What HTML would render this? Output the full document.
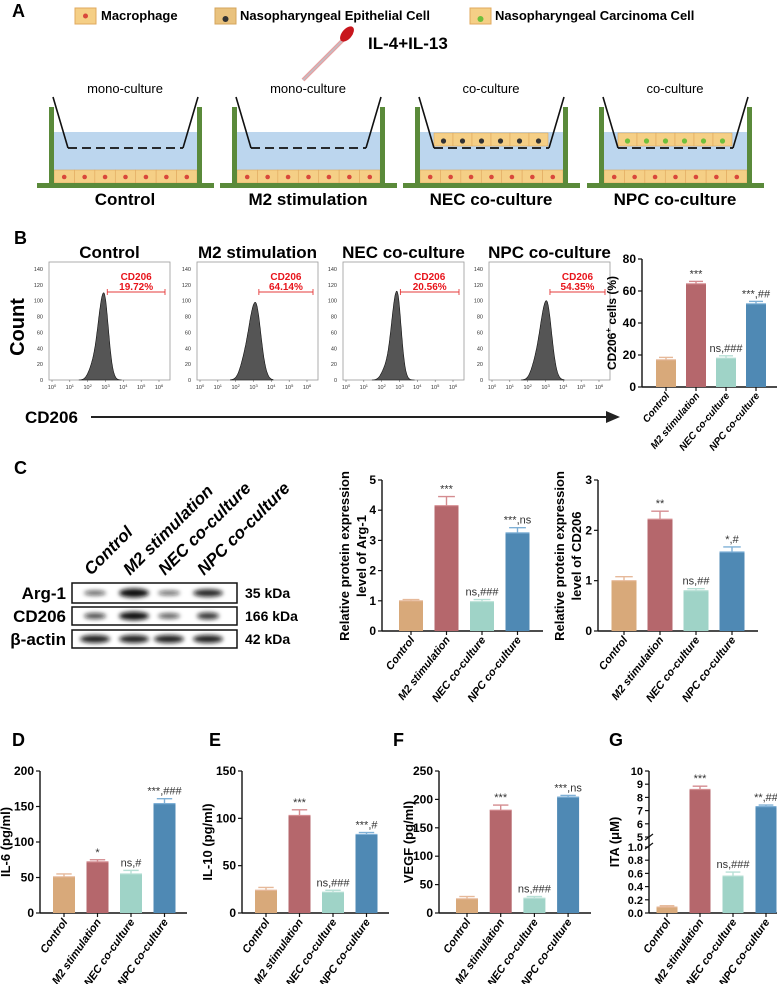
<!DOCTYPE html>
<html><head><meta charset="utf-8"><style>
body{margin:0;background:#fff}
svg{display:block;font-family:"Liberation Sans Narrow","Liberation Sans",sans-serif}
</style></head><body>
<svg id="fig" width="777" height="984" viewBox="0 0 777 984" xmlns="http://www.w3.org/2000/svg">
<defs>
<filter id="blur1" x="-50%" y="-100%" width="200%" height="300%"><feGaussianBlur stdDeviation="2"/></filter>
</defs>
<g id="panelA">
<text x="12" y="17" font-size="18" font-weight="bold" font-family="Liberation Sans">A</text>
<g><rect x="75" y="8" width="21" height="16" fill="#f5cf86" stroke="#e0a85e"/><circle cx="85.5" cy="16" r="2.5" fill="#d9483b"/><text x="101" y="20" font-size="13" font-weight="bold">Macrophage</text></g>
<g><rect x="215" y="8" width="21" height="16" fill="#e9c27e" stroke="#d5a55c"/><circle cx="225.5" cy="19" r="3" fill="#333"/><text x="240" y="20" font-size="13" font-weight="bold">Nasopharyngeal Epithelial Cell</text></g>
<g><rect x="470" y="8" width="21" height="16" fill="#f5cf86" stroke="#e0a85e"/><circle cx="480.5" cy="19" r="3" fill="#6fbf3b"/><text x="495" y="20" font-size="13" font-weight="bold">Nasopharyngeal Carcinoma Cell</text></g>
<g><line x1="303" y1="80" x2="343" y2="40" stroke="#e8a0a0" stroke-width="4"/><line x1="303" y1="80" x2="343" y2="40" stroke="#c0c0c8" stroke-width="1.5"/><ellipse cx="347" cy="34" rx="5" ry="9" transform="rotate(40 347 34)" fill="#c8161d"/></g>
<text x="368" y="49" font-size="17" font-weight="bold">IL-4+IL-13</text>
<g id="wells"></g>
</g>
<g id="panelB">
<text x="14" y="244" font-size="18" font-weight="bold" font-family="Liberation Sans">B</text>
<text transform="translate(24 327) rotate(-90)" text-anchor="middle" font-size="20" font-weight="bold" font-family="Liberation Sans">Count</text>
<text x="25" y="423" font-size="17" font-weight="bold">CD206</text>
<g><line x1="91" y1="417" x2="612" y2="417" stroke="#222" stroke-width="2"/><polygon points="620,417 606,411 606,423" fill="#222"/></g>
<g id="hists"></g>
<g id="chartB"></g>
</g>
<g id="panelC">
<text x="14" y="474" font-size="18" font-weight="bold" font-family="Liberation Sans">C</text>
<g id="blot"></g>
<g id="chartArg"></g>
<g id="chartCD"></g>
</g>
<g id="panelDG">
<text x="12" y="746" font-size="18" font-weight="bold" font-family="Liberation Sans">D</text>
<text x="209" y="746" font-size="18" font-weight="bold" font-family="Liberation Sans">E</text>
<text x="393" y="746" font-size="18" font-weight="bold" font-family="Liberation Sans">F</text>
<text x="609" y="746" font-size="18" font-weight="bold" font-family="Liberation Sans">G</text>
<g id="chartD"></g><g id="chartE"></g><g id="chartF"></g><g id="chartG"></g>
</g>
</svg>
<script>
const NS="http://www.w3.org/2000/svg";
const groups=["Control","M2 stimulation","NEC co-culture","NPC co-culture"];
const barColors=["#d8a97a","#b5676c","#9fd3c7","#4f89b4"];
const errColors=["#e6b99a","#d48c90","#b8e0d6","#7fb0d6"];
// Panel B flow data
const histPeakLog=[2.9,3.1,2.85,3.05];
const histPeakCount=[110,98,112,100];
const histWidth=[0.30,0.36,0.28,0.34];
const gatePct=["19.72%","64.14%","20.56%","54.35%"];
const histTicks=[0,20,40,60,80,100,120,140];
// Panel B bars
const cd206PctValues=[17,64.5,18,52];
const cd206PctErr=[18.5,66,19.5,53.5];
const cd206PctAnn=["","***","ns,###","***,##"];
const cd206PctTicks=[0,20,40,60,80];
// Panel C
const argValues=[1.0,4.15,0.97,3.25];
const argErr=[1.04,4.45,1.04,3.42];
const argAnn=["","***","ns,###","***,ns"];
const argTicks=[0,1,2,3,4,5];
const cdValues=[1.0,2.22,0.80,1.57];
const cdErr=[1.08,2.38,0.84,1.67];
const cdAnn=["","**","ns,##","*,#"];
const cdTicks=[0,1,2,3];
const argBand=[0.35,1.0,0.3,0.75];
const cd206Band=[0.5,0.9,0.4,0.65];
const actinBand=[0.8,0.8,0.8,0.8];
// Panels D-G
const il6Values=[51,72,55,154];
const il6Err=[55,75,60,161];
const il6Ann=["","*","ns,#","***,###"];
const il6Ticks=[0,50,100,150,200];
const il10Values=[24,103,22,83];
const il10Err=[27,109,24,85];
const il10Ann=["","***","ns,###","***,#"];
const il10Ticks=[0,50,100,150];
const vegfValues=[25,181,26,204];
const vegfErr=[29,190,29,207];
const vegfAnn=["","***","ns,###","***,ns"];
const vegfTicks=[0,50,100,150,200,250];
const itaValues=[0.09,8.6,0.56,7.3];
const itaErr=[0.11,8.85,0.62,7.42];
const itaAnn=["","***","ns,###","**,##"];
const itaTicksLow=[0,0.2,0.4,0.6,0.8,1.0];
const itaTicksHigh=[5,6,7,8,9,10];

function el(tag,attrs,parent,text){const e=document.createElementNS(NS,tag);for(const k in attrs)e.setAttribute(k,attrs[k]);if(text!==undefined)e.textContent=text;if(parent)parent.appendChild(e);return e;}

// ---------- Panel A wells ----------
const wellsG=document.getElementById('wells');
const wellLeft=[49,232,415,599];
const topLabels=["mono-culture","mono-culture","co-culture","co-culture"];
const insertCells=[null,null,"#333","#6fbf3b"];
wellLeft.forEach((W,i)=>{
  const g=el('g',{},wellsG);
  
  
  el('rect',{x:W+5,y:132,width:143,height:38,fill:"#bcd6ee"},g);
  for(let k=0;k<7;k++){const cw=143/7;el('rect',{x:W+5+k*cw,y:170,width:cw,height:13,fill:"#f5cf86",stroke:"#e0a85e","stroke-width":0.6},g);el('circle',{cx:W+5+k*cw+cw/2,cy:177,r:2.3,fill:"#d9483b"},g);}
  if(insertCells[i]){for(let k=0;k<6;k++){const cw=114/6;el('rect',{x:W+19+k*cw,y:133,width:cw,height:13,fill:"#f5cf86",stroke:"#e0a85e","stroke-width":0.6},g);el('circle',{cx:W+19+k*cw+cw/2,cy:141,r:2.6,fill:insertCells[i]},g);}}
  el('rect',{x:W,y:107,width:5,height:78,fill:"#5a8a3a"},g);
  el('rect',{x:W+148,y:107,width:5,height:78,fill:"#5a8a3a"},g);
  el('rect',{x:W-12,y:183,width:177,height:5,fill:"#5a8a3a"},g);
  el('polyline',{points:`${W+4},97 ${W+19},148`,fill:"none",stroke:"#111","stroke-width":1.6},g);
  el('polyline',{points:`${W+134},148 ${W+149},97`,fill:"none",stroke:"#111","stroke-width":1.6},g);
  el('line',{x1:W+19,y1:148,x2:W+134,y2:148,stroke:"#111","stroke-width":1.8,"stroke-dasharray":"9,5"},g);
  const t=el('text',{x:W+76,y:93,"text-anchor":"middle","font-size":13},g,topLabels[i]);
  
  
  const b=el('text',{x:W+76,y:205,"text-anchor":"middle","font-size":17,"font-weight":"bold"},g,groups[i]);
  
  
});

// ---------- Panel B histograms ----------
const histG=document.getElementById('hists');
const frameL=[49,197,343,489], frameW=121, fTop=262, fBot=380;
histPeakLog.forEach((pk,i)=>{
  const g=el('g',{},histG);
  
  
  const L=frameL[i];
  const xs=v=>L+3+v*(frameW-14)/6;
  const ys=c=>fBot-c*(fBot-fTop-7)/140;
  const tt=el('text',{x:L+frameW/2,y:258,"text-anchor":"middle","font-size":17,"font-weight":"bold"},g,groups[i]);
  
  
  el('rect',{x:L,y:fTop,width:frameW,height:fBot-fTop,fill:"none",stroke:"#999","stroke-width":0.8},g);
  histTicks.forEach(t=>{el('text',{x:L-6,y:ys(t)+2,"text-anchor":"end","font-size":5.5,fill:"#333"},g,t);});
  for(let d=0;d<=6;d++){const tx=el('text',{x:xs(d),y:389,"text-anchor":"middle","font-size":5.5,fill:"#333"},g,"10");el('tspan',{dy:-2,"font-size":4},tx,d);
    el('line',{x1:xs(d),y1:fBot,x2:xs(d),y2:fBot+2,stroke:"#555","stroke-width":0.5},g);}
  let d=`M${xs(pk-1.4)},${fBot}`;
  for(let v=pk-1.4;v<=pk+1.0;v+=0.02){const w=v<pk?histWidth[i]*1.1:histWidth[i]*0.85;let c=histPeakCount[i]*Math.exp(-Math.pow((v-pk)/w,2)/2);if(v<pk)c+=histPeakCount[i]*0.08*Math.exp(-Math.pow((v-pk+0.7)/0.3,2));d+=` L${xs(v).toFixed(1)},${ys(c).toFixed(1)}`;}
  d+=` L${xs(pk+1.0)},${fBot} Z`;
  const p=el('path',{d:d,fill:"#555",stroke:"#111","stroke-width":0.6},g);
  
  
  const gx1=xs(pk+0.2), gx2=L+frameW-5;
  el('line',{x1:gx1,y1:292,x2:gx2,y2:292,stroke:"#e53b3b","stroke-width":0.9},g);
  el('line',{x1:gx1,y1:289,x2:gx1,y2:295,stroke:"#e53b3b","stroke-width":0.9},g);
  el('line',{x1:gx2,y1:289,x2:gx2,y2:295,stroke:"#e53b3b","stroke-width":0.9},g);
  el('text',{x:(gx1+gx2)/2,y:280,"text-anchor":"middle","font-size":10,fill:"#e8141b","font-weight":"bold"},g,"CD206");
  const pt=el('text',{x:(gx1+gx2)/2,y:290,"text-anchor":"middle","font-size":10,fill:"#e8141b","font-weight":"bold"},g,gatePct[i]);
  
  
});

// ---------- Generic bar chart ----------
function barChart(gid,o){
  const g=document.getElementById(gid);
  const yS=o.scale||(v=>o.yBot-(v-o.min)/(o.max-o.min)*(o.yBot-o.yTop));
  el('line',{x1:o.x0,y1:o.yTop,x2:o.x0,y2:o.yBot+0.5,stroke:"#111","stroke-width":1.4},g);
  el('line',{x1:o.x0,y1:o.yBot,x2:o.x1,y2:o.yBot,stroke:"#111","stroke-width":1.4},g);
  o.ticks.forEach(t=>{
    el('line',{x1:o.x0-4,y1:yS(t),x2:o.x0,y2:yS(t),stroke:"#111","stroke-width":1.2},g);
    const lab=el('text',{x:o.x0-6,y:yS(t)+4,"text-anchor":"end","font-size":o.tickFont||12,"font-weight":"bold"},g,o.tickFmt?o.tickFmt(t):t);
    
    
  });
  o.values.forEach((v,i)=>{
    const cx=o.c0+i*o.step;
    const yv=yS(v), y0=o.yBot;
    const r=el('rect',{x:cx-o.bw/2,y:yv,width:o.bw,height:y0-yv,fill:barColors[i]},g);
    
    
    if(o.gap){el('rect',{x:cx-o.bw/2-1,y:o.gap[0],width:o.bw+2,height:o.gap[1]-o.gap[0],fill:"#fff"},g);}
    const ye=yS(o.err[i]);
    el('line',{x1:cx,y1:yv,x2:cx,y2:ye,stroke:errColors[i],"stroke-width":1.4},g);
    el('line',{x1:cx-o.bw*0.35,y1:ye,x2:cx+o.bw*0.35,y2:ye,stroke:errColors[i],"stroke-width":1.4},g);
    el('line',{x1:cx-o.bw/2,y1:yv,x2:cx+o.bw/2,y2:yv,stroke:errColors[i],"stroke-width":1.2},g);
    el('line',{x1:cx,y1:o.yBot,x2:cx,y2:o.yBot+4,stroke:"#111","stroke-width":1.2},g);
    if(o.ann[i]){const a=el('text',{x:cx,y:ye-4,"text-anchor":"middle","font-size":o.annFont||11,fill:"#333"},g,o.ann[i]);
      
      }
    if(o.xlab!==false){const lx=cx+4, ly=o.yBot+9;
      const t=el('text',{x:lx,y:ly,transform:`rotate(${o.rot||-50} ${lx} ${ly})`,"text-anchor":"end","font-size":o.xFont||11,"font-weight":"bold","font-style":"italic"},g,groups[i]);
      
      }
  });
  o.ylabel.forEach((ln,k)=>{
    const t=el('text',{transform:`translate(${o.ylx+k*o.lineGap} ${o.yly}) rotate(-90)`,"text-anchor":"middle","font-size":o.yFont||13,"font-weight":"bold","font-family":"Liberation Sans"},g);
    t.innerHTML=ln;
    
    
  });
}

barChart('chartB',{x0:642,x1:777,yTop:259,yBot:387,min:0,max:80,ticks:cd206PctTicks,values:cd206PctValues,err:cd206PctErr,ann:cd206PctAnn,c0:666,step:30,bw:20,ylabel:['CD206<tspan dy="-5" font-size="8">+</tspan><tspan dy="5"> cells (%)</tspan>'],ylx:616,yly:323,lineGap:0,yFont:12,xFont:10,rot:-50});
barChart('chartArg',{x0:382,x1:543,yTop:480,yBot:631,min:0,max:5,ticks:argTicks,values:argValues,err:argErr,ann:argAnn,c0:411,step:35.5,bw:24,ylabel:['Relative protein expression','level of Arg-1'],ylx:349,yly:556,lineGap:17,yFont:13,xFont:11,rot:-52});
barChart('chartCD',{x0:598,x1:758,yTop:480,yBot:631,min:0,max:3,ticks:cdTicks,values:cdValues,err:cdErr,ann:cdAnn,c0:624,step:36,bw:25,ylabel:['Relative protein expression','level of CD206'],ylx:564,yly:556,lineGap:17,yFont:13,xFont:11,rot:-52});
barChart('chartD',{x0:40,x1:187,yTop:771,yBot:913,min:0,max:200,ticks:il6Ticks,values:il6Values,err:il6Err,ann:il6Ann,c0:64,step:33.5,bw:22,ylabel:['IL-6 (pg/ml)'],ylx:10,yly:842,lineGap:0,xFont:11,rot:-55});
barChart('chartE',{x0:242,x1:389,yTop:771,yBot:913,min:0,max:150,ticks:il10Ticks,values:il10Values,err:il10Err,ann:il10Ann,c0:266,step:33.5,bw:22,ylabel:['IL-10 (pg/ml)'],ylx:212,yly:842,lineGap:0,xFont:11,rot:-55});
barChart('chartF',{x0:439,x1:591,yTop:771,yBot:913,min:0,max:250,ticks:vegfTicks,values:vegfValues,err:vegfErr,ann:vegfAnn,c0:467,step:33.7,bw:22,ylabel:['VEGF (pg/ml)'],ylx:413,yly:842,lineGap:0,xFont:11,rot:-55});
const gLowTop=847,gHighBot=837;
function itaScale(v){ if(v<=1) return 913-v*(913-gLowTop); return gHighBot-(v-5)/5*(gHighBot-771); }
barChart('chartG',{x0:649,x1:777,yTop:771,yBot:913,scale:itaScale,ticks:itaTicksHigh.concat(itaTicksLow),tickFmt:t=>t>=5?t:t.toFixed(1),tickFont:11,values:itaValues,err:itaErr,ann:itaAnn,c0:667,step:33,bw:21,gap:[gLowTop+1,gHighBot],ylabel:['ITA (μM)'],ylx:619,yly:842,lineGap:0,xFont:11,rot:-55});
(function(){const g=document.getElementById('chartG');el('rect',{x:645,y:gLowTop-1,width:8,height:gHighBot-gLowTop+3,fill:"#fff"},g);
el('line',{x1:645,y1:gLowTop+2,x2:653,y2:gLowTop-4,stroke:"#111","stroke-width":1.2},g);el('line',{x1:645,y1:gHighBot+3,x2:653,y2:gHighBot-3,stroke:"#111","stroke-width":1.2},g);})();

// ---------- Western blot ----------
const blotG=document.getElementById('blot');
const laneX=[95,134,169,208];
const blotRows=[{name:"Arg-1",kda:"35 kDa",y:583,h:20,vals:argBand},{name:"CD206",kda:"166 kDa",y:607,h:18,vals:cd206Band},{name:"β-actin",kda:"42 kDa",y:630,h:18,vals:actinBand}];
blotRows.forEach(r=>{
  const g=el('g',{},blotG);
  
  
  el('rect',{x:72,y:r.y,width:165,height:r.h,fill:"#fff",stroke:"#111","stroke-width":1.5},g);
  r.vals.forEach((v,i)=>{const rx=v>0.7?15:11; el('ellipse',{cx:laneX[i],cy:r.y+r.h/2,rx:rx,ry:1.5+v*3,fill:"#111","fill-opacity":Math.min(1,0.45+v*0.6),filter:"url(#blur1)"},g);});
  el('text',{x:66,y:r.y+r.h/2+6,"text-anchor":"end","font-size":17,"font-weight":"bold"},g,r.name);
  el('text',{x:245,y:r.y+r.h/2+5,"font-size":14,"font-weight":"bold"},g,r.kda);
});
groups.forEach((n,i)=>{const lx=laneX[i]-4, ly=576;
  const t=el('text',{x:lx,y:ly,transform:`rotate(-45 ${lx} ${ly})`,"font-size":17,"font-weight":"bold","font-style":"italic"},blotG,n);
  
  });
</script>
</body></html>
